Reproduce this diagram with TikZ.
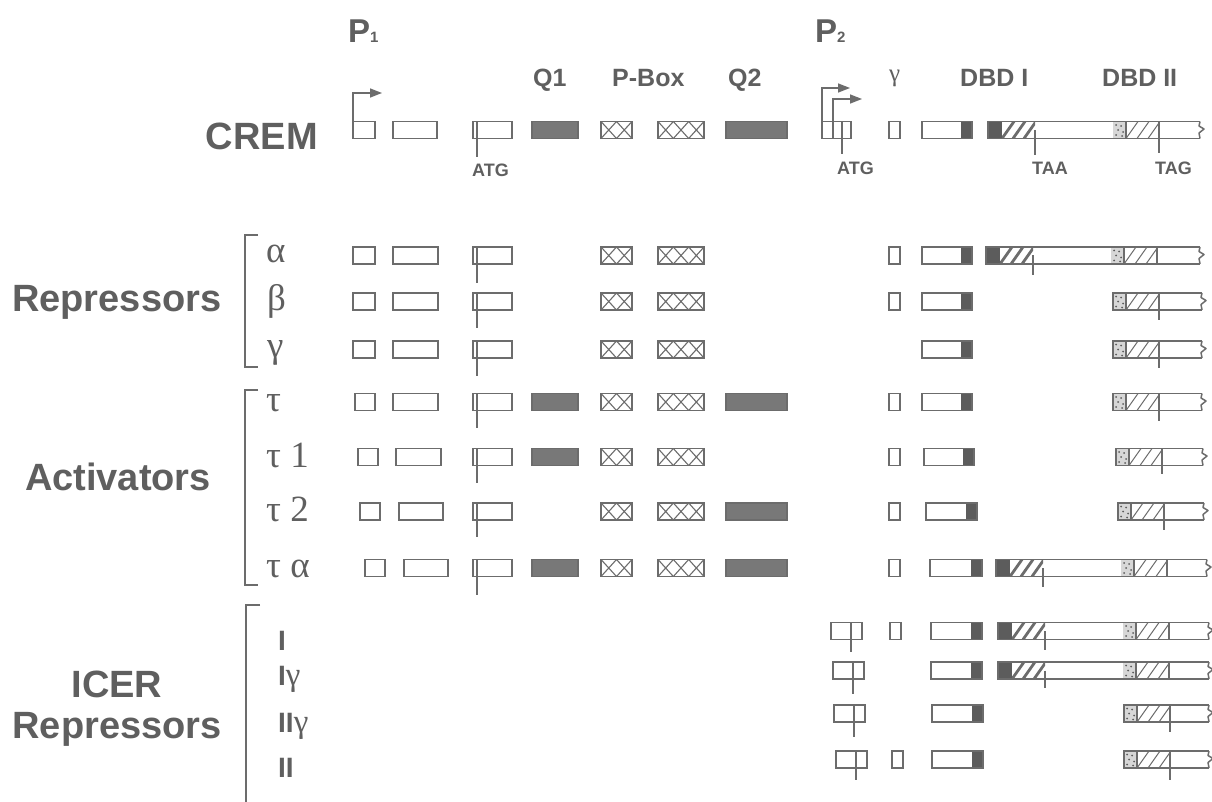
\documentclass[tikz,border=0pt]{standalone}
\usepackage{fontspec}
\setmainfont{Liberation Serif}
\newfontfamily\hsans{Liberation Sans}
\usetikzlibrary{arrows.meta}
\definecolor{ink}{RGB}{108,108,108}
\definecolor{txt}{RGB}{95,95,95}
\definecolor{darkf}{RGB}{92,92,92}
\definecolor{qfill}{RGB}{120,120,120}
\definecolor{stipf}{RGB}{215,215,215}
\tikzset{
  ln/.style={draw=ink,line width=1.5pt},
  big/.style={font=\hsans\bfseries\fontsize{38}{40}\selectfont,text=txt,inner sep=0pt},
  hdr/.style={font=\hsans\bfseries\fontsize{25}{27}\selectfont,text=txt,inner sep=0pt,anchor=base west},
  pname/.style={font=\hsans\bfseries\fontsize{33}{35}\selectfont,text=txt,inner sep=0pt,anchor=base west},
  codon/.style={font=\hsans\bfseries\fontsize{18}{20}\selectfont,text=txt,inner sep=0pt,anchor=base west},
  greek/.style={font=\fontsize{37}{39}\selectfont,text=txt,inner sep=0pt,anchor=base west},
  icer/.style={font=\hsans\bfseries\fontsize{28}{30}\selectfont,text=txt,inner sep=0pt,anchor=base west},
  tip/.style={-{Triangle[length=12pt,width=9pt]}}
}
\newcommand{\icg}{{\normalfont\fontsize{33}{35}\selectfont γ}}
% plain exon box: x0, x1, yc
\newcommand{\exbox}[3]{\draw[ln] (#1,#3-8.5) rectangle (#2,#3+8.5);}
% Q (glutamine) box
\newcommand{\qbox}[3]{\draw[ln,fill=qfill] (#1,#3-8.5) rectangle (#2,#3+8.5);}
% ATG exon: yc, tick length
\newcommand{\atgex}[2]{\draw[ln] (473,#1-8.5) rectangle (512,#1+8.5);
  \draw[ln] (477,#1-8.5) -- (477,#1+8.5+#2);}
% P-box: x0, x1, number of crosses, yc
\newcommand{\pbx}[4]{\draw[ln] (#1,#4-8.5) rectangle (#2,#4+8.5);
  \pgfmathsetmacro{\mycw}{(#2-#1)/#3}
  \foreach \k in {1,...,#3}{\draw[ink,line width=1.1pt] ({#1+(\k-1)*\mycw},#4-8.5) -- ({#1+\k*\mycw},#4+8.5)
     ({#1+(\k-1)*\mycw},#4+8.5) -- ({#1+\k*\mycw},#4-8.5);}}
% gamma exon: x0, yc
\newcommand{\gex}[2]{\draw[ln] (#1,#2-8.5) rectangle (#1+11,#2+8.5);}
% exon before DBD: x0, x1, yc
\newcommand{\dbdone}[3]{\fill[darkf] (#2-11,#3-8.5) rectangle (#2,#3+8.5);
  \draw[ln] (#1,#3-8.5) rectangle (#2,#3+8.5);}
% slashes: x0, x1, yc, offset, step, width
\newcommand{\slashes}[6]{\begin{scope}\clip (#1,#3-8.5) rectangle (#2,#3+8.5);
  \foreach \k in {0,1,2,3}{\draw[ink,line width=#6] ({#1+#4+\k*#5-6},#3+8.5) -- ({#1+#4+\k*#5+6},#3-8.5);}
  \end{scope}}
% stippled part: x0, yc
\newcommand{\stip}[2]{\fill[stipf] (#1,#2-8.5) rectangle (#1+13,#2+8.5);
  \foreach \dx/\dy in {3/-5,8/-4,5/0,10/2,3/5,9/6}{\fill[darkf] (#1+\dx,#2+\dy) circle[radius=1pt];}}
% frame with broken right end: x0, xe, yc
\newcommand{\frameb}[3]{\draw[ln] (#2,#3-8.5) -- (#1,#3-8.5) -- (#1,#3+8.5) -- (#2,#3+8.5);
  \draw[ln,line join=round] (#2,#3-8.5) -- (#2-1,#3-4) -- (#2+4,#3-1) -- (#2-1,#3+3) -- (#2,#3+8.5);}
% DBD II: xs, yc, tick
\newcommand{\dbdtwo}[3]{\stip{#1}{#2}
  \slashes{#1+13}{#1+46}{#2}{6}{11}{1pt}
  \draw[ln] (#1+13,#2-8.5) -- (#1+13,#2+8.5);
  \draw[ln] (#1+46,#2-8.5) -- (#1+46,#2+8.5+#3);}
% long bar: x0, xe, yc, TAA tick, TAG tick
\newcommand{\longbar}[5]{\fill[darkf] (#1,#3-8.5) rectangle (#1+14,#3+8.5);
  \slashes{#1+14}{#1+47}{#3}{6}{11}{2.8pt}
  \dbdtwo{#1+125}{#3}{#5}
  \frameb{#1}{#2}{#3}
  \draw[ln] (#1+47,#3) -- (#1+47,#3+8.5+#4);}
% short bar: xs, xe, yc, tick
\newcommand{\shortbar}[4]{\dbdtwo{#1}{#3}{#4}\frameb{#1}{#2}{#3}}
% ICER P2 exon: x0, x1, v, yc, tick
\newcommand{\icerp}[5]{\draw[ln] (#1,#4-8.5) rectangle (#2,#4+8.5);
  \draw[ln] (#3,#4-8.5) -- (#3,#4+8.5+#5);}

\begin{document}
\begin{tikzpicture}[x=1pt,y=-1pt]
\useasboundingbox (0,0) rectangle (1212,802);
\fill[white] (0,0) rectangle (1212,802);

% ---------- headers ----------
\node[pname] (p1) at (348,43) {P{\fontsize{15}{15}\selectfont 1}};
\node[pname] (p2) at (815,43) {P{\fontsize{15}{15}\selectfont 2}};
\node[hdr] (q1) at (533,87) {Q1};
\node[hdr] (pb) at (612,87) {P-Box};
\node[hdr] (q2) at (728,87) {Q2};
\node[font=\fontsize{25}{27}\selectfont,text=txt,inner sep=0pt,anchor=base west] (gh) at (889,82) {γ};
\node[hdr] (d1) at (960,87) {DBD I};
\node[hdr] (d2) at (1102,87) {DBD II};

% ---------- big labels ----------
\node[big,anchor=base east] (crem) at (318,150) {CREM};
\node[big,anchor=base west] (rep) at (12,311) {Repressors};
\node[big,anchor=base] (act) at (118,490) {Activators};
\node[big,anchor=base] (icerl) at (117,697) {ICER};
\node[big,anchor=base] (rep2) at (117,738) {Repressors};

% brackets
\draw[ln] (258,235) -- (245,235) -- (245,367) -- (258,367);
\draw[ln] (258,390) -- (245,390) -- (245,585) -- (258,585);
\draw[ln] (260,605) -- (246,605) -- (246,802);

% ---------- CREM row ----------
\exbox{353}{375}{130}
\draw[ln,tip] (353,121.5) -- (353,93) -- (382,93);
\exbox{393}{437}{130}
\atgex{130}{19}
\qbox{532}{578}{130}
\pbx{601}{632}{2}{130}
\pbx{658}{704}{3}{130}
\qbox{726}{787}{130}
\draw[ln] (822,121.5) rectangle (851,138.5);
\draw[ln] (833,121.5) -- (833,138.5);
\draw[ln] (842,121.5) -- (842,154);
\draw[ln,tip] (822,121.5) -- (822,88) -- (850,88);
\draw[ln,tip] (833,121.5) -- (833,99) -- (862,99);
\gex{889}{130}
\dbdone{922}{972}{130}
\longbar{988}{1200}{130}{17}{15}
\node[codon] (atg1) at (472,177) {ATG};
\node[codon] (atg2) at (837,175) {ATG};
\node[codon] (taa) at (1032,175) {TAA};
\node[codon] (tag) at (1155,175) {TAG};

% ---------- Repressors ----------
\node[greek] (la) at (266,263) {α};
\node[greek] (lb) at (267,310) {β};
\node[greek] (lg) at (267,357) {γ};
% alpha
\exbox{353}{375}{255.5}\exbox{393}{438}{255.5}\atgex{255.5}{19}
\pbx{601}{632}{2}{255.5}\pbx{658}{704}{3}{255.5}
\gex{889}{255.5}\dbdone{922}{972}{255.5}
\longbar{986}{1200}{255.5}{11}{0}
% beta
\exbox{353}{375}{301.5}\exbox{393}{438}{301.5}\atgex{301.5}{18}
\pbx{601}{632}{2}{301.5}\pbx{658}{704}{3}{301.5}
\gex{889}{301.5}\dbdone{922}{972}{301.5}
\shortbar{1113}{1202}{301.5}{10}
% gamma
\exbox{353}{375}{349.5}\exbox{393}{438}{349.5}\atgex{349.5}{18}
\pbx{601}{632}{2}{349.5}\pbx{658}{704}{3}{349.5}
\dbdone{922}{972}{349.5}
\shortbar{1113}{1202}{349.5}{10}

% ---------- Activators ----------
\node[greek] (lt) at (266,411) {τ};
\node[greek] (lt1) at (266,467) {τ 1};
\node[greek] (lt2) at (266,521) {τ 2};
\node[greek] (lta) at (266,577) {τ α};
% tau
\exbox{355}{375}{402}\exbox{393}{438}{402}\atgex{402}{17}
\qbox{532}{578}{402}\pbx{601}{632}{2}{402}\pbx{658}{704}{3}{402}\qbox{726}{787}{402}
\gex{889}{402}\dbdone{922}{972}{402}
\shortbar{1113}{1202}{402}{10}
% tau 1
\exbox{358}{378}{457}\exbox{396}{441}{457}\atgex{457}{17}
\qbox{532}{578}{457}\pbx{601}{632}{2}{457}\pbx{658}{704}{3}{457}
\gex{889}{457}\dbdone{924}{974}{457}
\shortbar{1116}{1203}{457}{8}
% tau 2
\exbox{360}{380}{511.5}\exbox{399}{443}{511.5}\atgex{511.5}{17}
\pbx{601}{632}{2}{511.5}\pbx{658}{704}{3}{511.5}\qbox{726}{787}{511.5}
\gex{889}{511.5}\dbdone{926}{977}{511.5}
\shortbar{1118}{1204}{511.5}{10}
% tau alpha
\exbox{365}{385}{568}\exbox{404}{448}{568}\atgex{568}{18}
\qbox{532}{578}{568}\pbx{601}{632}{2}{568}\pbx{658}{704}{3}{568}\qbox{726}{787}{568}
\gex{889}{568}\dbdone{930}{982}{568}
\longbar{996}{1207}{568}{10}{0}

% ---------- ICER ----------
\node[icer] (li1) at (278,650) {I};
\node[icer] (li2) at (278,685) {I\icg};
\node[icer] (li3) at (278,732) {II\icg};
\node[icer] (li4) at (278,777) {II};
% I
\icerp{831}{862}{851}{631}{12}
\gex{890}{631}\dbdone{931}{982}{631}
\longbar{998}{1209}{631}{10}{0}
% I gamma
\icerp{833}{864}{853}{670.5}{15}
\dbdone{931}{982}{670.5}
\longbar{998}{1209}{670.5}{9}{0}
% II gamma
\icerp{834}{865}{854}{713.5}{15}
\dbdone{932}{983}{713.5}
\shortbar{1124}{1209}{713.5}{10}
% II
\icerp{836}{867}{856}{759.5}{12}
\gex{892}{759.5}\dbdone{932}{983}{759.5}
\shortbar{1124}{1209}{759.5}{12}
\end{tikzpicture}
\end{document}
